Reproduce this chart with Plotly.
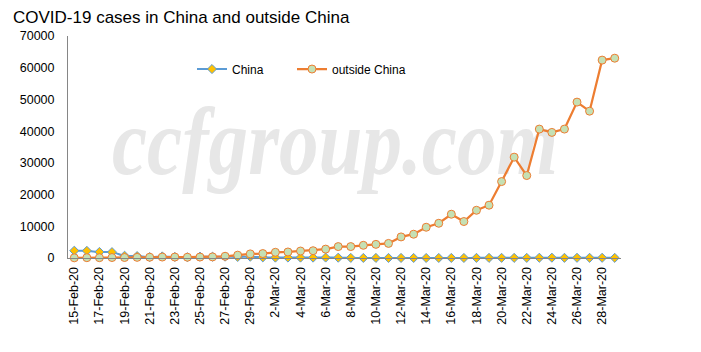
import base64
import pandas as pd
import plotly.graph_objects as go

dates = [f"{d.day}-{d.strftime('%b')}-{d.strftime('%y')}" for d in pd.date_range("2020-02-15", "2020-03-29")]

china = [2300, 2250, 1900, 1850, 700, 600, 300, 500, 350, 250,
         450, 400, 430, 330, 400, 200, 120, 150, 130, 120,
         140, 100, 45, 20, 30, 20, 25, 15, 10, 20,
         25, 15, 40, 40, 50, 45, 40, 80, 100, 50,
         70, 55, 70, 50]

outside = [50, 100, 100, 150, 150, 200, 250, 300, 300, 250,
           300, 350, 550, 900, 1300, 1400, 1800, 1900, 2200, 2300,
           2800, 3600, 3600, 4000, 4300, 4600, 6650, 7500, 9700, 10950,
           13800, 11500, 15050, 16650, 24100, 31800, 26000, 40650, 39600, 40650,
           49150, 46300, 62400, 63000]

tick_vals = dates[::2]
y_ticks = list(range(0, 70001, 10000))

fig = go.Figure()
fig.add_trace(go.Scatter(
    x=dates, y=china, name="China", mode="lines+markers", legend="legend",
    line=dict(color="#5B9BD5", width=2, shape="spline", smoothing=0.6),
    marker=dict(symbol="diamond", size=7, color="#FFC000",
                line=dict(color="#5B9BD5", width=1)),
    cliponaxis=False))
fig.add_trace(go.Scatter(
    x=dates, y=outside, name="outside China", mode="lines+markers", legend="legend2",
    line=dict(color="#ED7D31", width=2.25),
    marker=dict(symbol="circle", size=8, color="#C5E0B4",
                line=dict(color="#ED7D31", width=1)),
    cliponaxis=False))

svg = ('<svg xmlns="http://www.w3.org/2000/svg" width="553" height="222" viewBox="0 0 553 222">'
       '<text x="44" y="138" font-family="Liberation Serif" font-style="italic" font-weight="bold" '
       'font-size="96" fill="#e7e7e7" textLength="446" lengthAdjust="spacingAndGlyphs">ccfgroup.com</text></svg>')
src = "data:image/svg+xml;base64," + base64.b64encode(svg.encode()).decode()
fig.add_layout_image(dict(source=src, xref="paper", yref="paper", x=0, y=1,
                          sizex=1, sizey=1, sizing="stretch", layer="below",
                          xanchor="left", yanchor="top"))

leg_common = dict(orientation="h", xanchor="left", y=(257.7-69)/221.7, yanchor="middle",
                  font=dict(size=12), bgcolor="rgba(0,0,0,0)", itemwidth=30)

fig.update_layout(
    width=701, height=352,
    margin=dict(l=68, r=80, t=36, b=94),
    paper_bgcolor="white", plot_bgcolor="white",
    font=dict(family="Liberation Sans", color="#000000", size=12),
    title=dict(text="COVID-19 cases in China and outside China",
               x=13/701, xanchor="left", xref="container",
               y=1-17/352, yanchor="middle", yref="container",
               font=dict(size=17, color="#000000")),
    showlegend=True,
    legend=dict(x=(192-68)/553, **leg_common),
    legend2=dict(x=(292-68)/553, **leg_common),
    xaxis=dict(type="category", range=[-0.5, len(dates)-0.5],
               tickmode="array", tickvals=tick_vals, ticktext=tick_vals,
               tickangle=-90, tickfont=dict(size=12.5),
               showgrid=False, showline=True, linecolor="#868686", linewidth=1,
               ticks="", zeroline=False, ticklabelstandoff=3),
    yaxis=dict(range=[0, 70000], tickmode="array", tickvals=y_ticks,
               ticktext=[str(v) for v in y_ticks],
               tickfont=dict(size=12.5), showgrid=False,
               showline=True, linecolor="#868686", linewidth=1,
               ticks="", zeroline=False, ticklabelstandoff=10),
)

fig.write_html("out.html")
